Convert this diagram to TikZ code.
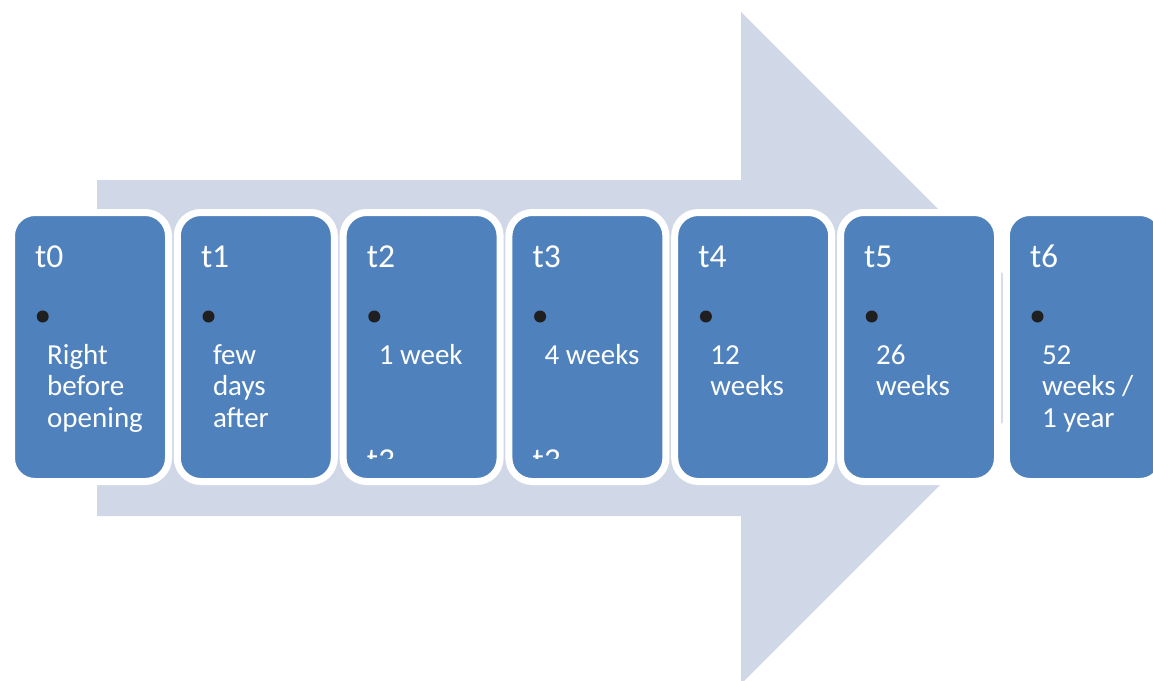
\documentclass[tikz,border=0pt]{standalone}
\usepackage{fontspec}
\setmainfont{Carlito}
\usetikzlibrary{calc}
\definecolor{boxblue}{HTML}{4F81BD}
\definecolor{arrowgrey}{HTML}{D0D8E8}
\newcommand\stagelines[1]{\begin{tabular}[t]{@{}l@{}}#1\end{tabular}}
\tikzset{
  stagebox/.style={draw=white, line width=7, fill=boxblue, rounded corners=23.5,
    minimum width=157, minimum height=269, inner sep=0, outer sep=0, anchor=north west},
  stagehead/.style={text=white, font=\fontsize{33.5}{36}\selectfont, inner sep=0, anchor=base west},
  stagetext/.style={text=white, font=\fontsize{29}{31.5}\selectfont, inner sep=0, anchor=base west},
  stagedot/.style={circle, fill=black!88, inner sep=0, minimum size=12},
}

\begin{document}
\begin{tikzpicture}[x=1pt, y=-1pt]
		%%%%% START %%%%%
		\useasboundingbox (0, 0) rectangle (1153, 680);
		\clip (0, 0) rectangle (1153, 680);
		
		% big arrow behind the stages
		\fill[arrowgrey] (97, 180) -- (741, 180) -- (741, 12) -- (1077, 348)
			-- (741, 684) -- (741, 516) -- (97, 516) -- cycle;
		
		% stages
		\foreach \i/\txt in {0/{Right\\before\\opening}, 1/{few\\days\\after}, 2/{1 week},
				3/{4 weeks}, 4/{12\\weeks}, 5/{26\\weeks}, 6/{52\\weeks /\\1 year}} {
			\node[stagebox] (box\i) at (11.5+165.8*\i, 212.5) {};
			\node[stagehead] (head\i) at ([shift={(23.5, 54.5)}]box\i.north west) {t\i};
			\node[stagedot] (dot\i) at ([shift={(31.2, 104)}]box\i.north west) {};
			\node[stagetext] (text\i) at ([shift={(35.5, 151.5)}]box\i.north west) {\stagelines{\txt}};
		}
		
		% overflowing labels, cut by the box
		\foreach \i in {2, 3} {
			\begin{scope}
				\clip ([shift={(10, 230)}]box\i.north west) rectangle ([shift={(100, 245.5)}]box\i.north west);
				\node[stagehead] (over\i) at ([shift={(23.5, 259)}]box\i.north west) {t3};
			\end{scope}
		}
		
		%%%%% END %%%%%
	\end{tikzpicture}
\end{document}
